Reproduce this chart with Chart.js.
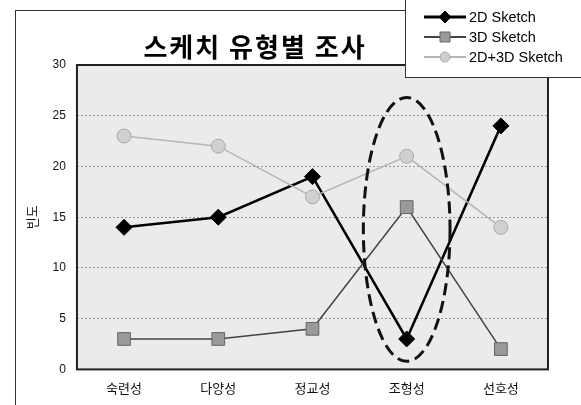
<!DOCTYPE html>
<html>
<head>
<meta charset="utf-8">
<script src="https://cdn.jsdelivr.net/npm/chart.js@4/dist/chart.umd.min.js"></script>
<style>
  html, body { margin: 0; padding: 0; background: #fff; }
  #wrap { position: relative; width: 581px; height: 405px; overflow: hidden; }
  #frame { position: absolute; left: 15px; top: 10px; width: 600px; height: 420px;
           border-left: 1.5px solid #333; border-top: 1.5px solid #333; }
  #title { position: absolute; left: 100px; top: 27px; width: 310px; text-align: center;
           font: bold 26px "Noto Sans CJK KR", sans-serif; letter-spacing: 2px; color: #000; }
  #legend { position: absolute; left: 405px; top: -2px; width: 180px; height: 78px;
            border: 1.5px solid #333; background: #fff;
            font: 14.5px "Liberation Sans", Arial, sans-serif; }
  .row { display: flex; align-items: center; height: 20px; margin-left: 18px; }
  .row:first-child { margin-top: 8px; }
  .row canvas { margin-right: 3px; }
  #chartBox { position: absolute; left: 0; top: 0; width: 581px; height: 405px; }
</style>
</head>
<body>
<div id="wrap">
  <div id="frame"></div>
  <div id="chartBox"><canvas id="c" width="581" height="405"></canvas></div>
  <div id="title">스케치 유형별 조사</div>
  <div id="legend"></div>
</div>
<script>
'use strict';

// 데이터
const CATEGORIES = ['숙련성', '다양성', '정교성', '조형성', '선호성'];
const SKETCH_2D  = [14, 15, 19, 3, 24];
const SKETCH_3D  = [3, 3, 4, 16, 2];
const SKETCH_MIX = [23, 22, 17, 21, 14];
const Y_TICKS    = [0, 5, 10, 15, 20, 25, 30];

const SERIES = [
  { label: '2D Sketch',    data: SKETCH_2D,  line: '#000', width: 2.5, style: 'rectRot', r: 8, fill: '#000',   border: '#000' },
  { label: '3D Sketch',    data: SKETCH_3D,  line: '#444', width: 1.5, style: 'rect',    r: 9, fill: '#9a9a9a', border: '#666' },
  { label: '2D+3D Sketch', data: SKETCH_MIX, line: '#b5b5b5', width: 1.5, style: 'circle', r: 7, fill: '#d0d0d0', border: '#aaa' },
];

// 플롯 배경 + 테두리 + 점선 타원
const decor = {
  id: 'decor',
  beforeDraw(chart) {
    const { ctx, chartArea: a } = chart;
    ctx.save();
    ctx.fillStyle = '#ebebeb';
    ctx.fillRect(a.left, a.top, a.right - a.left, a.bottom - a.top);
    ctx.restore();
  },
  afterDatasetsDraw(chart) {
    const { ctx, chartArea: a, scales: { x, y } } = chart;
    ctx.save();
    ctx.strokeStyle = '#222';
    ctx.lineWidth = 2;
    ctx.strokeRect(a.left, a.top, a.right - a.left, a.bottom - a.top);
    // 조형성 강조 타원
    const cx = x.getPixelForValue(3);
    const top = y.getPixelForValue(26.8), bot = y.getPixelForValue(0.8);
    const rx = (x.getPixelForValue(1) - x.getPixelForValue(0)) * 0.46;
    ctx.setLineDash([12, 6]);
    ctx.lineWidth = 3;
    ctx.strokeStyle = '#111';
    ctx.beginPath();
    ctx.ellipse(cx, (top + bot) / 2, rx, (bot - top) / 2, 0, 0, Math.PI * 2);
    ctx.stroke();
    ctx.restore();
  }
};

new Chart(document.getElementById('c'), {
  type: 'line',
  data: {
    labels: CATEGORIES,
    datasets: SERIES.map(s => ({
      label: s.label,
      data: s.data,
      borderColor: s.line,
      borderWidth: s.width,
      pointStyle: s.style,
      pointRadius: s.r,
      pointBackgroundColor: s.fill,
      pointBorderColor: s.border,
      pointBorderWidth: 1,
      tension: 0,
    })).reverse()
  },
  options: {
    responsive: false,
    animation: false,
    layout: { padding: { left: 22, right: 33, top: 65, bottom: 6 } },
    plugins: { legend: { display: false }, title: { display: false }, tooltip: { enabled: false } },
    scales: {
      x: {
        offset: true,
        grid: { display: false },
        border: { display: false },
        ticks: { color: '#111', font: { size: 13, family: '"Noto Sans CJK KR", sans-serif' }, padding: 3 }
      },
      y: {
        min: 0, max: 30,
        afterBuildTicks(ax) { ax.ticks = Y_TICKS.map(v => ({ value: v })); },
        grid: { color: '#999', lineWidth: 1, drawTicks: false },
        border: { display: false, dash: [2, 2] },
        ticks: { color: '#111', font: { size: 12, family: '"Liberation Sans", Arial, sans-serif' }, padding: 11 },
        title: { display: true, text: '빈도', color: '#111', font: { size: 13, family: '"Noto Sans CJK KR", sans-serif' }, padding: 2 }
      }
    }
  },
  plugins: [decor]
});

// 범례 (선 + 마커)
const legend = document.getElementById('legend');
SERIES.forEach(s => {
  const row = document.createElement('div');
  row.className = 'row';
  const cv = document.createElement('canvas');
  cv.width = 42; cv.height = 16;
  const g = cv.getContext('2d');
  g.strokeStyle = s.line; g.lineWidth = s.width + 0.5;
  g.beginPath(); g.moveTo(0, 8); g.lineTo(42, 8); g.stroke();
  g.fillStyle = s.fill; g.strokeStyle = s.border; g.lineWidth = 1;
  g.beginPath();
  if (s.style === 'rectRot') { g.moveTo(21, 2); g.lineTo(27, 8); g.lineTo(21, 14); g.lineTo(15, 8); g.closePath(); }
  else if (s.style === 'rect') { g.rect(16, 3, 10, 10); }
  else { g.arc(21, 8, 5, 0, Math.PI * 2); }
  g.fill(); g.stroke();
  row.appendChild(cv);
  const t = document.createElement('span');
  t.textContent = s.label;
  row.appendChild(t);
  legend.appendChild(row);
});
</script>
</body>
</html>
